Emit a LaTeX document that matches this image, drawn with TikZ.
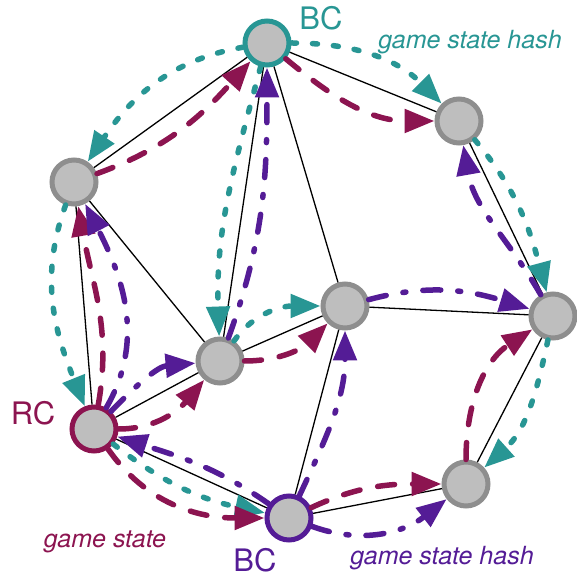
\documentclass[tikz,border=0pt]{standalone}
\usepackage{fontspec}
\setmainfont{TeX Gyre Heros}
\usetikzlibrary{arrows.meta}
\definecolor{hashteal}{RGB}{40,150,148}
\definecolor{statered}{RGB}{140,20,80}
\definecolor{hashpurple}{RGB}{84,28,150}
\definecolor{nodegray}{RGB}{190,190,190}
\definecolor{rimgray}{RGB}{142,142,142}

\begin{document}
\begin{tikzpicture}[x=1pt,y=1pt,
    peer/.style={circle,draw=rimgray,fill=nodegray,line width=5pt,
        minimum size=44pt,inner sep=0pt},
    link/.style={line width=1.3pt},
    flow/.style={line width=5.5pt,line cap=round,
        -{Triangle[length=30pt,width=23pt]}},
    hashA/.style={flow,hashteal,dash pattern=on 5pt off 16pt},
    state/.style={flow,statered,dash pattern=on 17pt off 18pt},
    hashB/.style={flow,hashpurple,dash pattern=on 18pt off 17pt on 3pt off 17pt},
    tag/.style={inner sep=0pt,font=\fontsize{31}{31}\selectfont},
    note/.style={inner sep=0pt,font=\fontsize{25}{25}\selectfont\itshape}]
    \useasboundingbox (0,0) rectangle (576,577);

    \node[peer,draw=hashteal] (A) at (267,534) {};
    \node[peer] (B) at (459,456) {};
    \node[peer] (C) at (74,395) {};
    \node[peer] (D) at (220,216) {};
    \node[peer] (E) at (345,271) {};
    \node[peer] (F) at (553,261) {};
    \node[peer,draw=statered] (R) at (94,148) {};
    \node[peer,draw=hashpurple] (H) at (289,59) {};
    \node[peer] (I) at (466,93) {};

    \node[tag,text=hashteal] (topbc) at (321,559) {BC};
    \node[note,text=hashteal] (tophash) at (470,535) {game state hash};
    \node[tag,text=statered] (rc) at (33,164) {RC};
    \node[note,text=statered] (state) at (105,35) {game state};
    \node[tag,text=hashpurple] (lowbc) at (255,17) {BC};
    \node[note,text=hashpurple] (lowhash) at (442,19) {game state hash};

    \draw[link] (A) -- (C);
    \draw[link] (A) -- (B);
    \draw[link] (A) -- (D);
    \draw[link] (A) -- (E);
    \draw[link] (B) -- (F);
    \draw[link] (C) -- (R);
    \draw[link] (C) -- (D);
    \draw[link] (D) -- (R);
    \draw[link] (D) -- (E);
    \draw[link] (E) -- (F);
    \draw[link] (E) -- (H);
    \draw[link] (R) -- (H);
    \draw[link] (H) -- (I);
    \draw[link] (I) -- (F);

    \draw[hashA] (A) to[out=190,in=56] (C);
    \draw[hashA] (A) to[out=0,in=135] (B);
    \draw[hashA] (A) to[out=255,in=92] (D);
    \draw[hashA] (D) to[out=55,in=180] (E);
    \draw[hashA] (C) to[out=250,in=112] (R);
    \draw[hashA] (R) to[out=-38,in=168] (H);
    \draw[hashA] (B) to[out=-50,in=105] (F);
    \draw[hashA] (F) to[out=258,in=42] (I);

    \draw[state] (R) to[out=80,in=-80] (C);
    \draw[state] (C) to[out=20,in=228] (A);
    \draw[state] (A) to[out=-40,in=180] (B);
    \draw[state] (R) to[out=0,in=230] (D);
    \draw[state] (D) to[out=0,in=225] (E);
    \draw[state] (R) to[out=-55,in=180] (H);
    \draw[state] (H) to[out=25,in=180] (I);
    \draw[state] (I) to[out=90,in=213] (F);

    \draw[hashB] (H) to[out=145,in=-18] (R);
    \draw[hashB] (R) to[out=60,in=-63] (C);
    \draw[hashB] (R) to[out=46,in=185] (D);
    \draw[hashB] (D) to[out=70,in=-90] (A);
    \draw[hashB] (H) to[out=65,in=-90] (E);
    \draw[hashB] (H) to[out=-20,in=218] (I);
    \draw[hashB] (E) to[out=15,in=163] (F);
    \draw[hashB] (F) to[out=120,in=-80] (B);
\end{tikzpicture}
\end{document}
